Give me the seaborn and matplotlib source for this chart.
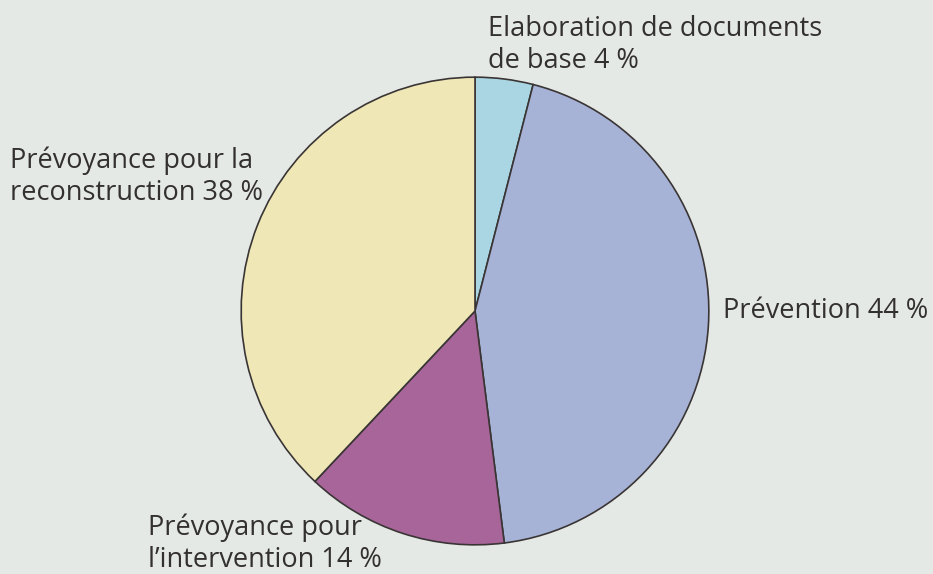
import matplotlib
matplotlib.use("Agg")
import matplotlib.pyplot as plt
import seaborn as sns

categories = ["Elaboration de documents\nde base", "Prévention",
              "Prévoyance pour\nl’intervention", "Prévoyance pour la\nreconstruction"]
values = [4, 44, 14, 38]
colors = ["#a9d6e2", "#a7b3d6", "#a8659a", "#efe7b6"]

sns.set_style("white")
plt.rcParams['font.family'] = ['Open Sans', 'DejaVu Sans']

W, H = 933, 574
bg = "#e5e9e5"
fig = plt.figure(figsize=(W / 100, H / 100), dpi=100, facecolor=bg)

cx, cy, r = 475, 311, 235
ax = fig.add_axes([(cx - r) / W, (H - cy - r) / H, 2 * r / W, 2 * r / H])
ax.set_facecolor(bg)
ax.pie(values, colors=sns.color_palette(colors), startangle=90, counterclock=False,
       radius=1, wedgeprops=dict(edgecolor="#3a3535", linewidth=1.2))
ax.set_xlim(-1.005, 1.005)
ax.set_ylim(-1.005, 1.005)
ax.set_aspect("equal")
ax.axis("off")

labels = [f"{c} {v} %" for c, v in zip(categories, values)]
# (x of left edge, baseline of last line) in pixels
positions = [(488, 68), (723, 318), (148, 567), (10, 200)]
tc = "#333030"
for lab, (x, y) in zip(labels, positions):
    fig.text(x / W, 1 - y / H, lab, fontsize=19.5, color=tc, ha="left", va="baseline",
             linespacing=1.18)

fig.savefig("out.png", dpi=100, facecolor=bg)
